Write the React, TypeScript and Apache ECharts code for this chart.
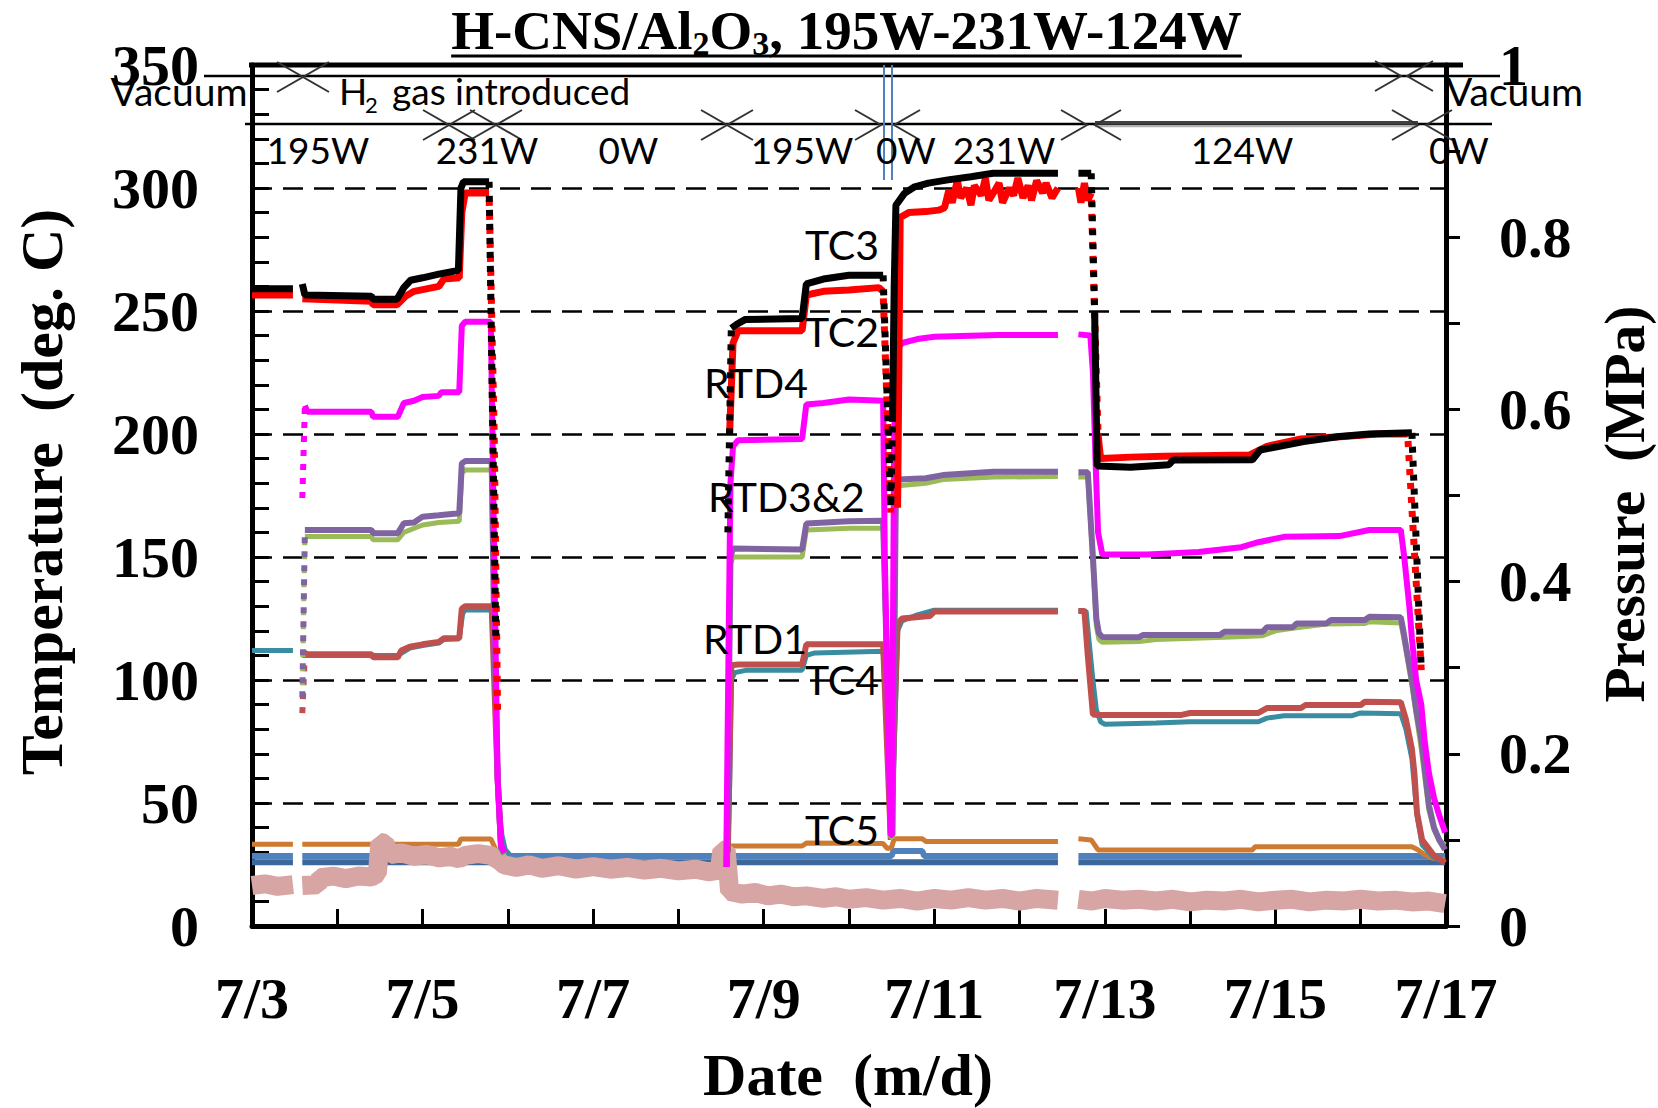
import React, { useEffect, useRef } from "react";
import * as echarts from "echarts";

type P = [number, number] | null;

// ---------- axis ticks / labels ----------
const xLabelDays = [3, 5, 7, 9, 11, 13, 15, 17];
const leftTicks = [0, 50, 100, 150, 200, 250, 300, 350];
const rightTicks = [0, 0.2, 0.4, 0.6, 0.8, 1];

// ---------- series data: [day of July, value] ----------
const tc3: P[] = [
  [3.0, 259], [3.48, 259], null,
  [3.59, 261], [3.62, 256.5], [4.4, 256], [4.42, 254.8], [4.7, 254.8], [4.78, 259.5], [4.86, 262.5], [5.0, 263.5], [5.19, 265], [5.42, 266.5], [5.45, 300], [5.48, 302.5], [5.78, 302.5], null,
  [8.62, 243], [8.68, 244.5], [8.78, 246.5], [9.45, 247], [9.5, 261], [9.7, 263], [10.0, 264.5], [10.4, 264.5], null,
  [10.51, 205], [10.53, 260], [10.55, 293], [10.65, 297.8], [10.77, 300.5], [10.93, 302], [11.16, 303.3], [11.43, 304.6], [11.69, 306], [12.45, 306], null,
  [12.69, 306], [12.84, 306], null,
  [12.88, 250], [12.91, 187], [13.3, 186.5], [13.75, 187.5], [13.8, 189.4], [14.73, 189.5], [14.82, 193.5], [15.33, 196.9], [15.75, 199], [16.1, 200], [16.6, 200.5],
];
const tc3Fast: P[] = [
  [5.78, 302.5], [5.86, 115], null,
  [8.58, 160], [8.62, 243], null,
  [10.4, 264.5], [10.49, 170], [10.51, 205], null,
  [12.84, 306], [12.88, 250], null,
  [16.6, 200.5], [16.71, 104],
];
const tc2: P[] = [
  [3.0, 256.5], [3.48, 256.5], null,
  [3.59, 255], [4.4, 254], [4.42, 252.5], [4.7, 252.5], [4.8, 256], [4.9, 258], [5.19, 260], [5.25, 263], [5.43, 263.5], [5.46, 290], [5.5, 298], [5.78, 298], null,
  [8.6, 200], [8.64, 237], [8.7, 242], [9.45, 242], [9.5, 256.5], [9.7, 258], [10.0, 258.5], [10.35, 259.5], [10.4, 258], null,
  [10.57, 170], [10.6, 288], [10.7, 290], [10.9, 290.4], [11.05, 291],
  [11.12, 292], [11.17, 299], [11.21, 294], [11.27, 303], [11.31, 296], [11.38, 300], [11.43, 293], [11.47, 301], [11.55, 297], [11.6, 304], [11.64, 295], [11.71, 299], [11.76, 302], [11.8, 294], [11.88, 300], [11.93, 297], [11.98, 304], [12.04, 296], [12.1, 301], [12.14, 295], [12.2, 303], [12.27, 298], [12.31, 302], [12.38, 296], [12.45, 300], null,
  [12.69, 300], [12.72, 294], [12.76, 302], [12.8, 295], [12.84, 298], null,
  [12.92, 200], [12.95, 190], [13.3, 190.6], [13.7, 191], [14.7, 191.5], [14.9, 195], [15.3, 198], [15.8, 199], [16.2, 200], [16.55, 200],
];
const tc2Fast: P[] = [
  [5.78, 298], [5.84, 200], [5.88, 85], null,
  [10.4, 258], [10.49, 168], null,
  [12.84, 298], [12.92, 200], null,
  [16.55, 200], [16.71, 104],
];
const rtd4: P[] = [
  [3.62, 211.5], [3.65, 209], [4.4, 209], [4.42, 207], [4.71, 207], [4.78, 212.6], [4.9, 213.5], [5.0, 215], [5.19, 215.5], [5.22, 217], [5.43, 217], [5.46, 244], [5.5, 245.6], [5.8, 245.6], [5.84, 150], [5.88, 60], [5.92, 33], [5.96, 30], null,
  [8.56, 24], [8.59, 120], [8.61, 180], [8.64, 195], [8.7, 197.5], [9.45, 198], [9.5, 212], [9.7, 212.6], [10.0, 214], [10.4, 213.5], [10.42, 150], [10.46, 80], [10.49, 37], [10.5, 37], [10.53, 200], [10.56, 234], [10.62, 237], [10.8, 238.6], [11.0, 239.5], [11.75, 240.2], [12.45, 240.2], null,
  [12.69, 240.5], [12.83, 240], [12.86, 225], [12.89, 190], [12.92, 160], [12.97, 151], [13.5, 151], [14.1, 152], [14.6, 154], [14.8, 156], [15.1, 158.2], [15.75, 158.5], [16.1, 161], [16.47, 161], [16.51, 150], [16.57, 130], [16.6, 117], [16.65, 100], [16.71, 90], [16.75, 75], [16.8, 62], [16.86, 52], [16.92, 45], [16.99, 38],
];
const rtd4Fast: P[] = [[3.59, 174], [3.62, 211.5]];
const rtd3: P[] = [
  [3.62, 161], [4.4, 161], [4.42, 159.7], [4.71, 159.7], [4.78, 163.7], [4.9, 164], [5.0, 166.4], [5.19, 167], [5.43, 167.8], [5.46, 188], [5.5, 189], [5.81, 189], [5.84, 120], [5.88, 60], [5.92, 32], [5.96, 29.5], null,
  [8.57, 24], [8.61, 150], [8.64, 153.5], [9.45, 153], [9.5, 163.6], [10.0, 164.5], [10.4, 164.7], [10.45, 100], [10.49, 37], [10.51, 37], [10.55, 178], [10.58, 181.5], [10.9, 182], [11.1, 183.3], [11.7, 184.7], [12.45, 184.7], null,
  [12.69, 184.5], [12.8, 184.5], [12.86, 150], [12.9, 125], [12.93, 119], [12.97, 117.5], [13.4, 117.4], [13.45, 118.3], [14.35, 118.3], [14.4, 119.6], [14.85, 119.6], [14.9, 121.4], [15.2, 121.4], [15.25, 123], [15.6, 123], [15.65, 124.4], [16.05, 124.4], [16.1, 125.7], [16.47, 125.5], [16.5, 120], [16.55, 110], [16.6, 100], [16.65, 88], [16.71, 76], [16.8, 49], [16.86, 40], [16.92, 35], [16.99, 31],
];
const rtd3Fast: P[] = [[3.59, 93], [3.62, 161]];
const rtd2: P[] = [
  [3.62, 158.3], [4.4, 158.3], [4.42, 157], [4.71, 157], [4.78, 160], [5.0, 163], [5.19, 164], [5.43, 164.5], [5.46, 184], [5.5, 185.4], [5.81, 185.4], [5.84, 118], [5.88, 58], [5.92, 31], [5.96, 29], null,
  [8.57, 24], [8.61, 147], [8.64, 150], [9.45, 150], [9.5, 161], [10.0, 161.7], [10.4, 161.7], [10.45, 98], [10.49, 36], [10.51, 36], [10.55, 176], [10.58, 179], [10.9, 180], [11.1, 181.5], [11.7, 182.5], [12.45, 182.7], null,
  [12.69, 182.5], [12.8, 182.5], [12.86, 148], [12.9, 122], [12.93, 116.5], [12.97, 115.3], [13.4, 115.6], [13.6, 116.5], [14.4, 117.4], [14.85, 118], [15.0, 120], [15.2, 121], [15.6, 122.8], [16.05, 123], [16.1, 123.7], [16.47, 123.2], [16.5, 118], [16.55, 108], [16.6, 98], [16.65, 86], [16.71, 72], [16.8, 47], [16.86, 39], [16.92, 35], [16.99, 33],
];
const rtd2Fast: P[] = [[3.59, 95], [3.62, 158.3]];
const rtd1: P[] = [
  [3.62, 111], [3.65, 110.5], [4.4, 110.5], [4.42, 109.2], [4.71, 109.2], [4.75, 112], [4.85, 113.5], [5.0, 114.5], [5.19, 115.5], [5.25, 117], [5.43, 117], [5.46, 129], [5.5, 130], [5.81, 130], [5.84, 100], [5.88, 60], [5.92, 32], [5.96, 29.5], null,
  [8.58, 30], [8.62, 106], [8.7, 106.3], [9.45, 106.3], [9.5, 114.5], [10.0, 114.5], [10.4, 114.5], [10.45, 70], [10.49, 35], [10.53, 80], [10.57, 122.8], [10.62, 125], [10.95, 126], [11.0, 127.8], [12.45, 127.8], null,
  [12.69, 128], [12.76, 128], [12.8, 110], [12.86, 86], [12.92, 85.8], [13.9, 85.8], [14.0, 86.6], [14.8, 86.6], [14.9, 88.6], [15.3, 88.6], [15.35, 89.8], [16.0, 89.8], [16.05, 91.2], [16.47, 91], [16.53, 84], [16.6, 72], [16.63, 62], [16.66, 46], [16.72, 35], [16.85, 29], [16.99, 25.6],
];
const rtd1Fast: P[] = [[3.59, 86.5], [3.62, 111]];
const tc4: P[] = [
  [3.0, 112], [3.48, 112], null,
  [3.59, 110], [4.4, 110], [4.71, 110], [4.85, 113], [5.0, 114], [5.19, 115], [5.25, 116.5], [5.43, 116.8], [5.47, 127], [5.5, 128.5], [5.82, 128.5], [5.86, 83], [5.9, 48], [5.93, 37], [5.97, 31], [6.02, 29], null,
  [8.58, 30], [8.6, 57], [8.62, 100], [8.66, 103], [8.8, 104], [9.45, 104], [9.5, 110], [9.6, 111], [10.4, 111.7], [10.45, 80], [10.49, 35], [10.52, 60], [10.57, 120], [10.62, 124], [10.8, 126.5], [11.0, 128.4], [12.45, 128.4], null,
  [12.69, 128], [12.78, 128], [12.86, 100], [12.9, 88], [12.95, 83], [13.0, 82], [13.6, 82.5], [14.0, 83], [14.8, 83], [14.9, 84.5], [15.1, 85.5], [15.9, 85.5], [16.0, 86.6], [16.47, 86.3], [16.53, 80], [16.6, 68], [16.66, 45], [16.72, 33], [16.85, 28], [16.99, 26],
];
const tc5: P[] = [
  [3.0, 33.2], [3.48, 33.2], null,
  [3.59, 33.2], [5.42, 33.2], [5.45, 35.4], [5.8, 35.4], [5.86, 31], [5.95, 29], null,
  [8.57, 31], [8.62, 32.5], [9.45, 32.5], [9.5, 33.7], [10.4, 33.5], [10.45, 31.5], [10.5, 32], [10.53, 35.5], [10.86, 35.5], [10.9, 34.4], [12.45, 34.4], null,
  [12.69, 35.5], [12.84, 35], [12.88, 33], [12.92, 30.9], [14.73, 30.9], [14.76, 32.2], [16.6, 32.2], [16.67, 31], [16.75, 29], [16.85, 27.5], [16.99, 27],
];
const tc1: P[] = [
  [3.0, 28.5], [3.48, 28.5], null,
  [3.59, 28.5], [10.5, 28.5], [10.52, 30.5], [10.86, 30.5], [10.88, 28.5], [12.45, 28.5], null,
  [12.69, 28.5], [16.99, 28.5],
];
const tcAmb: P[] = [
  [3.0, 25.9], [3.48, 25.9], null,
  [3.59, 25.9], [12.45, 25.9], null,
  [12.69, 25.9], [16.99, 25.9],
];
// pressure, MPa (right axis)
const pressure: P[] = [
  [3.0, 0.047], [3.15, 0.049], [3.3, 0.046], [3.48, 0.048], null,
  [3.59, 0.047], [3.77, 0.048], [3.8, 0.056], [3.95, 0.058], [4.1, 0.055], [4.25, 0.058], [4.4, 0.057], [4.47, 0.061], [4.5, 0.097], [4.56, 0.096], [4.62, 0.083],
  [4.75, 0.085], [4.9, 0.081], [5.05, 0.083], [5.2, 0.079], [5.32, 0.081], [5.43, 0.078], [5.5, 0.082], [5.65, 0.084], [5.8, 0.082], [5.9, 0.076],
  [5.96, 0.071], [6.1, 0.068], [6.25, 0.071], [6.4, 0.067], [6.6, 0.070], [6.8, 0.066], [7.0, 0.069], [7.2, 0.066], [7.4, 0.068], [7.6, 0.065], [7.8, 0.067], [8.0, 0.064], [8.2, 0.066], [8.35, 0.063], [8.48, 0.065],
  [8.51, 0.088], [8.56, 0.088], [8.6, 0.040], [8.75, 0.037], [8.9, 0.039], [9.05, 0.035], [9.2, 0.037], [9.35, 0.034], [9.5, 0.035], [9.7, 0.032], [9.85, 0.034], [10.0, 0.031], [10.2, 0.033], [10.4, 0.030], [10.6, 0.032], [10.8, 0.029], [11.0, 0.032], [11.2, 0.030], [11.4, 0.033], [11.6, 0.030], [11.8, 0.032], [12.0, 0.029], [12.2, 0.032], [12.45, 0.030], null,
  [12.69, 0.031], [12.85, 0.029], [13.0, 0.032], [13.2, 0.030], [13.4, 0.031], [13.6, 0.029], [13.8, 0.031], [14.0, 0.028], [14.2, 0.030], [14.4, 0.029], [14.6, 0.031], [14.8, 0.028], [15.0, 0.030], [15.2, 0.031], [15.4, 0.028], [15.6, 0.030], [15.8, 0.029], [16.0, 0.031], [16.2, 0.029], [16.4, 0.030], [16.6, 0.028], [16.8, 0.029], [16.99, 0.026],
];

const SERIF = '"Liberation Serif", "Times New Roman", serif';
const SANS = 'Lato, "Open Sans", sans-serif';

const toData = (arr: P[]) => arr.map((p) => (p === null ? ["-", "-"] : p));

function lineSeries(name: string, data: P[], color: string, width: number, extra: any = {}) {
  return {
    name,
    type: "line",
    data: toData(data),
    showSymbol: false,
    symbol: "none",
    connectNulls: false,
    silent: true,
    animation: false,
    yAxisIndex: extra.yAxisIndex || 0,
    lineStyle: { color, width, type: extra.dash || "solid", dashOffset: extra.dashOffset || 0 },
    z: 2,
  };
}

function buildGraphic() {
  const G: any[] = [];
  const ln = (x1: number, y1: number, x2: number, y2: number, w: number, color = "#000") =>
    G.push({ type: "line", silent: true, z: 100, shape: { x1, y1, x2, y2 }, style: { stroke: color, lineWidth: w } });
  const tx = (text: string, x: number, y: number, size: number, o: any = {}) =>
    G.push({
      type: "text", silent: true, z: 101, x, y, rotation: o.rot || 0,
      style: {
        text, fill: "#000", fontSize: size, fontFamily: o.family || SANS, fontWeight: o.weight || "normal",
        align: o.align || "center", verticalAlign: "middle", textAlign: o.align || "center", textVerticalAlign: "middle",
      },
    });
  const pair = (cx: number, y: number, gap: number) => {
    const a = cx - gap / 2, b = cx + gap / 2;
    G.push({ type: "polyline", silent: true, z: 100, shape: { points: [[a - 26, y - 15], [a, y], [a - 26, y + 15]] }, style: { stroke: "#333", lineWidth: 2, fill: null } });
    G.push({ type: "polyline", silent: true, z: 100, shape: { points: [[b + 26, y - 15], [b, y], [b + 26, y + 15]] }, style: { stroke: "#333", lineWidth: 2, fill: null } });
  };

  // frame top + annotation rows
  ln(249, 65, 1463, 65, 5);
  ln(204, 76, 1500, 76, 2.5);
  ln(245, 124, 1492, 124, 2.5);
  ln(1095, 122.5, 1418, 122.5, 3, "#404040");
  ln(1095, 126, 1418, 126, 2.5, "#b0b0b0");
  ln(884, 65, 884, 180, 2, "#4F81BD");
  ln(892, 65, 892, 180, 2, "#4F81BD");
  pair(303, 77, 0);
  pair(1404, 76, 6);
  pair(449, 125, 0);
  pair(496, 125, 0);
  pair(727, 125, 0);
  pair(887.5, 125, 13);
  pair(1091, 125, 8);
  pair(1422, 125, 8);

  tx("Vacuum", 179, 90.5, 39);
  tx("H", 339, 90.5, 37, { align: "left" });
  tx("2", 365, 104.5, 22, { align: "left" });
  tx("gas introduced", 392, 90.5, 37, { align: "left" });
  tx("Vacuum", 1446, 90.5, 39, { align: "left" });
  const powers: [string, number][] = [["195W", 318], ["231W", 487], ["0W", 628.5], ["195W", 802], ["0W", 906], ["231W", 1004], ["124W", 1242], ["0W", 1459]];
  powers.forEach(([t, x]) => tx(t, x, 149.5, 37));

  // series labels
  tx("TC3", 842, 244, 41);
  tx("TC2", 842, 331, 41);
  tx("RTD4", 756, 382, 41);
  tx("RTD3&2", 708, 496, 41, { align: "left" });
  tx("RTD1", 755, 638, 41);
  tx("TC4", 842, 679, 41);
  tx("TC5", 842, 829, 41);

  // axis titles
  tx("Temperature  (deg. C)", 42, 492, 60, { family: SERIF, weight: "bold", rot: Math.PI / 2 });
  tx("Pressure  (MPa)", 1624, 504, 57.5, { family: SERIF, weight: "bold", rot: Math.PI / 2 });
  tx("Date  (m/d)", 848, 1075, 60, { family: SERIF, weight: "bold" });

  // title with subscripts, underlined
  const ctx = document.createElement("canvas").getContext("2d")!;
  const meas = (t: string, s: number) => { ctx.font = `bold ${s}px "Liberation Serif"`; return ctx.measureText(t).width; };
  const parts: [string, number, number][] = [["H-CNS/Al", 55, 30.5], ["2", 34, 43.5], ["O", 55, 30.5], ["3", 34, 43.5], [", 195W-231W-124W", 55, 30.5]];
  const W = parts.reduce((s, p) => s + meas(p[0], p[1]), 0);
  let x = 846.5 - W / 2;
  const x0 = x;
  parts.forEach(([t, s, y]) => { tx(t, x, y, s, { family: SERIF, weight: "bold", align: "left" }); x += meas(t, s); });
  ln(x0, 56, x0 + W, 56, 3);
  return G;
}

export default function App() {
  const ref = useRef<HTMLDivElement>(null);
  useEffect(() => {
    if (!ref.current) return;
    const chart = echarts.init(ref.current, undefined, { renderer: "svg" });
    const axisFont = { fontSize: 58, fontWeight: "bold", fontFamily: SERIF, color: "#000" };
    const dash = [6, 8];
    const option: any = {
      animation: false,
      backgroundColor: "#fff",
      grid: { left: 252, right: 212, top: 65, bottom: 182, show: false, containLabel: false, outerBoundsMode: "none" },
      xAxis: {
        type: "value", min: 3, max: 17, interval: 1,
        axisLine: { show: true, onZero: false, lineStyle: { color: "#000", width: 5 } },
        axisTick: { show: true, inside: true, length: 17, lineStyle: { color: "#000", width: 3 } },
        axisLabel: { ...axisFont, margin: 43, formatter: (v: number) => (xLabelDays.includes(Math.round(v)) ? `7/${Math.round(v)}` : "") },
        splitLine: { show: false },
      },
      yAxis: [
        {
          type: "value", min: 0, max: 350, interval: 50, position: "left",
          axisLine: { show: true, onZero: false, lineStyle: { color: "#000", width: 5 } },
          axisTick: { show: true, inside: true, length: 17, lineStyle: { color: "#000", width: 3 } },
          minorTick: { show: true, splitNumber: 5, length: 17, lineStyle: { color: "#000", width: 3 } },
          axisLabel: { ...axisFont, margin: 53, formatter: (v: number) => (leftTicks.includes(Math.round(v)) ? String(Math.round(v)) : "") },
          splitLine: { show: true, lineStyle: { color: "#000", width: 2.5, type: [20, 11] } },
          minorSplitLine: { show: false },
        },
        {
          type: "value", min: 0, max: 1, interval: 0.1, position: "right",
          axisLine: { show: true, onZero: false, lineStyle: { color: "#000", width: 5 } },
          axisTick: { show: true, inside: false, length: 14, lineStyle: { color: "#000", width: 3 } },
          axisLabel: {
            ...axisFont, margin: 53,
            formatter: (v: number) => {
              const k = Math.round(v * 10);
              const hit = rightTicks.some((r) => Math.round(r * 10) === k);
              return hit ? (k === 0 ? "0" : k === 10 ? "1" : (k / 10).toFixed(1)) : "";
            },
          },
          splitLine: { show: false },
        },
      ],
      series: [
        lineSeries("TC-amb", tcAmb, "#3B679B", 6),
        lineSeries("TC1", tc1, "#4F81BD", 6),
        lineSeries("TC5", tc5, "#CD7B32", 5),
        lineSeries("Pressure", pressure, "#D6A5A4", 19, { yAxisIndex: 1 }),
        lineSeries("TC4", tc4, "#3A8CA0", 5),
        lineSeries("RTD1", rtd1, "#C0504D", 6),
        lineSeries("RTD1f", rtd1Fast, "#C0504D", 6, { dash }),
        lineSeries("RTD2", rtd2, "#9BBB59", 5),
        lineSeries("RTD2f", rtd2Fast, "#9BBB59", 5, { dash, dashOffset: 7 }),
        lineSeries("RTD3", rtd3, "#8064A2", 6),
        lineSeries("RTD3f", rtd3Fast, "#8064A2", 6, { dash }),
        lineSeries("RTD4", rtd4, "#FF00FF", 6),
        lineSeries("RTD4f", rtd4Fast, "#FF00FF", 6, { dash }),
        lineSeries("TC2", tc2, "#FF0000", 7),
        lineSeries("TC2f", tc2Fast, "#FF0000", 7, { dash, dashOffset: 7 }),
        lineSeries("TC3", tc3, "#000000", 7),
        lineSeries("TC3f", tc3Fast, "#000000", 7, { dash }),
      ],
      graphic: buildGraphic(),
    };
    chart.setOption(option);
    return () => chart.dispose();
  }, []);
  return <div ref={ref} style={{ position: "fixed", left: 0, top: 0, width: 1658, height: 1108, background: "#fff" }} />;
}
